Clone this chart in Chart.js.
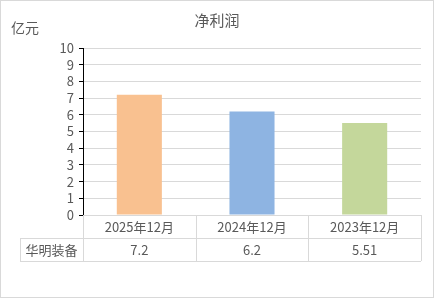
<!DOCTYPE html>
<html>
<head>
<meta charset="utf-8">
<script src="https://cdn.jsdelivr.net/npm/chart.js@4/dist/chart.umd.min.js"></script>
<style>
  html, body { margin: 0; padding: 0; background: #fff; }
  #wrap { width: 434px; height: 298px; position: relative; }
</style>
</head>
<body>
<div id="wrap"><canvas id="myChart" width="434" height="298"></canvas></div>
<script>
const categories = ['2025年12月', '2024年12月', '2023年12月'];
const profitValues = [7.2, 6.2, 5.51];
const valueLabels = ['7.2', '6.2', '5.51'];
const seriesName = '华明装备';
const barColors = ['#F9C190', '#8EB4E2', '#C4D79B'];

const fontFamily = '"Noto Sans CJK SC", "Noto Sans", sans-serif';
const textColor = '#595959';
const lineColor = '#d9d9d9';

// Draws title, unit, the data table under the axis and the outer frame
const tablePlugin = {
  id: 'tablePlugin',
  afterDraw(chart) {
    const ctx = chart.ctx;
    const area = chart.chartArea;
    const xScale = chart.scales.x;
    const rowH = 23;
    const top = area.bottom;
    const mid = top + rowH;
    const bottom = top + rowH * 2;
    const colW = (area.right - area.left) / categories.length;

    ctx.save();
    ctx.strokeStyle = lineColor;
    ctx.lineWidth = 1;
    ctx.beginPath();
    // horizontal lines
    ctx.moveTo(area.left, top + 0.5); ctx.lineTo(area.right, top + 0.5);
    ctx.moveTo(20, mid + 0.5); ctx.lineTo(area.right, mid + 0.5);
    ctx.moveTo(20, bottom + 0.5); ctx.lineTo(area.right, bottom + 0.5);
    // vertical lines
    ctx.moveTo(20.5, mid); ctx.lineTo(20.5, bottom);
    for (let i = 0; i <= categories.length; i++) {
      const x = Math.round(area.left + colW * i) + 0.5;
      ctx.moveTo(x, top); ctx.lineTo(x, bottom);
    }
    ctx.stroke();

    ctx.fillStyle = textColor;
    ctx.textBaseline = 'middle';
    ctx.textAlign = 'center';
    ctx.font = '13px ' + fontFamily;
    categories.forEach((c, i) => {
      ctx.fillText(c, xScale.getPixelForTick(i), top + rowH / 2 + 1);
      ctx.fillText(valueLabels[i], xScale.getPixelForTick(i), mid + rowH / 2 + 1);
    });
    ctx.fillText(seriesName, (20 + area.left) / 2, mid + rowH / 2 + 1);

    // title and unit
    ctx.font = '15px ' + fontFamily;
    ctx.fillText('净利润', 217, 20);
    ctx.textAlign = 'left';
    ctx.font = '14px ' + fontFamily;
    ctx.fillText('亿元', 11, 28);

    // frame
    ctx.strokeStyle = lineColor;
    ctx.strokeRect(0.5, 0.5, chart.width - 1, chart.height - 1);
    ctx.restore();
  }
};

const ctx1 = document.getElementById('myChart').getContext('2d');

const chart1 = new Chart(ctx1, {
  type: 'bar',
  data: {
    labels: categories,
    datasets: [{
      label: seriesName,
      data: profitValues,
      backgroundColor: barColors,
      borderWidth: 0,
      barPercentage: 0.4,
      categoryPercentage: 1
    }]
  },
  options: {
    responsive: false,
    animation: false,
    devicePixelRatio: 1,
    layout: {
      padding: { left: 43, right: 13, top: 48, bottom: 37 }
    },
    plugins: {
      legend: { display: false },
      title: { display: false },
      tooltip: { enabled: false }
    },
    scales: {
      x: {
        grid: { display: false },
        border: { display: false },
        ticks: { display: false },
        afterFit(scale) { scale.height = 46; }
      },
      y: {
        min: 0,
        max: 10,
        ticks: {
          stepSize: 1,
          autoSkip: false,
          color: textColor,
          padding: 5,
          font: { family: fontFamily, size: 13 }
        },
        grid: {
          color: lineColor,
          tickColor: '#000',
          tickLength: 4
        },
        border: { display: true, color: '#000', width: 1 },
        afterFit(scale) { scale.width = 40; }
      }
    }
  },
  plugins: [tablePlugin]
});
</script>
</body>
</html>
